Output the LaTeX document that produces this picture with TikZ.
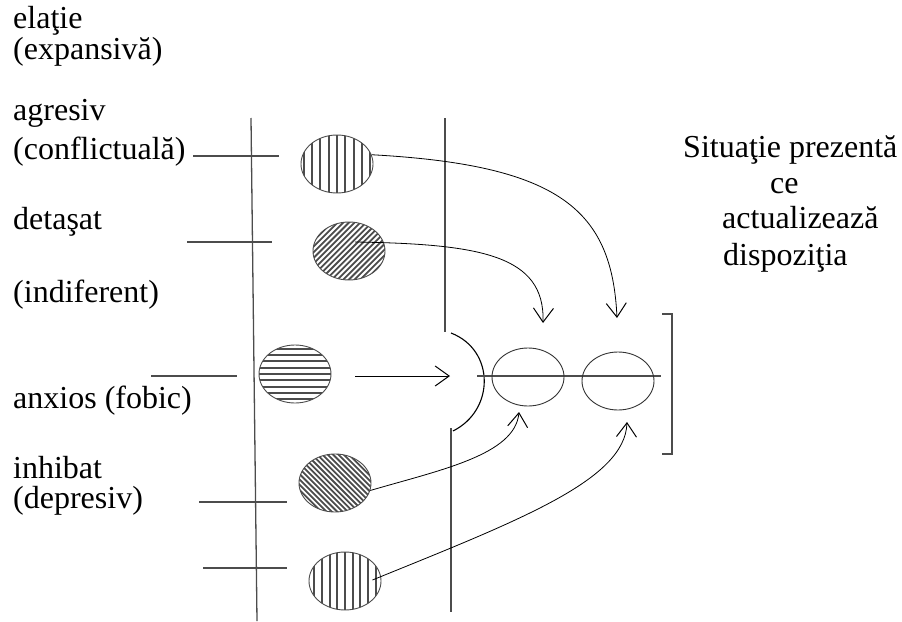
\documentclass[tikz,border=0pt]{standalone}
\usepackage{fontspec}
\setmainfont{Liberation Serif}
\usetikzlibrary{arrows.meta,shapes.geometric,calc}

\begin{document}
\begin{tikzpicture}[x=1pt,y=-1pt,
  lbl/.style={anchor=base west,inner sep=0pt,font=\fontsize{32}{38}\selectfont},
  axis/.style={draw=black!70,line width=1.3pt},
  blob/.style={ellipse,draw=black!70,line width=0.9pt,minimum width=72pt,minimum height=58pt,inner sep=0pt},
  hatchV/.style={blob,path picture={\foreach \k in {-6,...,6}
      \draw[line width=2.1pt] ([xshift=\k*#1 pt]path picture bounding box.center) +(0,-40) -- +(0,40);}},
  hatchH/.style={blob,path picture={\foreach \k in {-6,...,6}
      \draw[line width=2.1pt] ([yshift=\k*#1 pt]path picture bounding box.center) +(-45,0) -- +(45,0);}},
  hatchNE/.style={blob,path picture={\foreach \k in {-18,...,18}
      \draw[line width=1.8pt] ([xshift=\k*#1 pt]path picture bounding box.center) +(-40,40) -- +(40,-40);}},
  hatchNW/.style={blob,path picture={\foreach \k in {-18,...,18}
      \draw[line width=1.8pt] ([xshift=\k*#1 pt]path picture bounding box.center) +(-40,-40) -- +(40,40);}},
  link/.style={line width=0.8pt,-{Straight Barb[length=14pt,width=20pt,line width=1pt]}},
]
\useasboundingbox (0,0) rectangle (902,621);

% labels on the left
\node[lbl] (elatie)   at (13,28)  {elaţie};
\node[lbl] (expans)   at (13,59)  {(expansivă)};
\node[lbl] (agresiv)  at (13,120) {agresiv};
\node[lbl] (conflict) at (13,159) {(conflictuală)};
\node[lbl] (detasat)  at (13,229) {detaşat};
\node[lbl] (indif)    at (13,302) {(indiferent)};
\node[lbl] (anxios)   at (13,408) {anxios (fobic)};
\node[lbl] (inhibat)  at (13,478) {inhibat};
\node[lbl] (depres)   at (13,508) {(depresiv)};

% label on the right
\node[lbl] (sit1) at (683,157) {Situaţie prezentă};
\node[lbl] (sit2) at (770,193) {ce};
\node[lbl] (sit3) at (722,228) {actualizează};
\node[lbl] (sit4) at (723,265) {dispoziţia};

% vertical axes
\draw[axis] (251,118) -- (257,621);
\draw[axis] (445,118) -- (445,332);
\draw[axis] (451,428) -- (451,612);

% horizontal ticks
\draw[axis] (193,156) -- (279,156);
\draw[axis] (187,242) -- (272,242);
\draw[axis] (151,376) -- (237,376);
\draw[axis] (199,502) -- (287,502);
\draw[axis] (203,568) -- (287,568);

% hatched dispositions
\node[hatchV=8.3]  (e1) at (337,164) {};
\node[hatchNE=5.7] (e2) at (349,251) {};
\node[hatchH=6.3]  (e3) at (295,374) {};
\node[hatchNW=5.3] (e4) at (335,483) {};
\node[hatchV=7.7]  (e5) at (345,581) {};

% present situation
\draw[line width=1.1pt] (451,333) .. controls (495,350) and (495,410) .. (453,431);
\draw[axis] (477,376) -- (661,376);
\node[blob,draw=black!80] (sa) at (528,377) {};
\node[blob,draw=black!80] (sb) at (618,381) {};
\draw[axis] (662,314) -- (672,314) -- (672,454) -- (662,454);

% arrow targets
\coordinate (gate) at (450,376);
\coordinate (inA1) at (543,323);
\coordinate (inB1) at (617,318);
\coordinate (inA2) at (519,412);
\coordinate (inB2) at (627,422);

% connectors
\draw[link] ($(e3.east)+(24,2)$) -- (gate);
\draw[link] (e1.15) .. controls (560,165) and (612,210) .. (inB1);
\draw[link] ($(e2.center)+(6,-9)$) .. controls (480,244) and (545,255) .. (inA1);
\draw[link] (e4.-12) .. controls (440,470) and (515,455) .. (inA2);
\draw[link] ($(e5.east)+(-9,-1)$) .. controls (520,520) and (625,480) .. (inB2);
\end{tikzpicture}
\end{document}
